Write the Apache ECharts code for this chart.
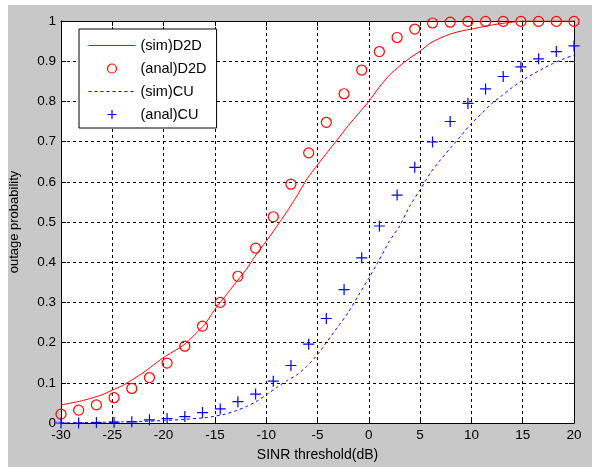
<!DOCTYPE html>
<html>
<head>
<meta charset="utf-8">
<script src="https://cdn.jsdelivr.net/npm/echarts@6/dist/echarts.min.js"></script>
<style>
  html, body { margin: 0; padding: 0; background: #fff; }
  #chart { width: 592px; height: 467px; }
</style>
</head>
<body>
<div id="chart"></div>
<script>
// SINR threshold (dB) for the analytical markers
var analX = [-30, -28.28, -26.55, -24.83, -23.10, -21.38, -19.66, -17.93, -16.21, -14.48,
  -12.76, -11.03, -9.31, -7.59, -5.86, -4.14, -2.41, -0.69, 1.03, 2.76,
  4.48, 6.21, 7.93, 9.66, 11.38, 13.10, 14.83, 16.55, 18.28, 20];
// (anal)D2D
var analD2D = [0.022, 0.032, 0.045, 0.063, 0.086, 0.113, 0.149, 0.191, 0.241, 0.300,
  0.365, 0.435, 0.513, 0.594, 0.672, 0.748, 0.819, 0.878, 0.924, 0.959,
  0.980, 0.995, 0.997, 0.999, 0.999, 0.999, 0.999, 0.999, 0.999, 0.999];
// (anal)CU
var analCU = [0.000, 0.000, 0.001, 0.002, 0.003, 0.008, 0.011, 0.016, 0.026, 0.035,
  0.053, 0.072, 0.104, 0.143, 0.196, 0.260, 0.332, 0.411, 0.490, 0.567,
  0.636, 0.699, 0.750, 0.795, 0.831, 0.862, 0.886, 0.906, 0.924, 0.938];

// simulation curves
var simX = [-30, -28, -26, -25, -24, -22, -20, -18, -16, -15, -14, -13, -12, -11, -10,
  -9, -8, -7, -6, -5, -4, -3, -2, -1, 0, 1, 2, 3, 4, 5, 6, 7, 8, 9, 10,
  11, 12, 13, 14, 15, 16, 17, 18, 19, 20];
var simD2D = [0.045, 0.055, 0.070, 0.082, 0.093, 0.125, 0.163, 0.195, 0.245, 0.283, 0.315, 0.348, 0.380, 0.418, 0.452,
  0.488, 0.525, 0.565, 0.608, 0.642, 0.675, 0.707, 0.740, 0.770, 0.800, 0.835, 0.865, 0.888, 0.908, 0.925, 0.945, 0.958, 0.968, 0.975, 0.980,
  0.985, 0.990, 0.994, 0.997, 1.0, 1.0, 1.0, 1.0, 1.0, 1.0];
var simCU = [0.000, 0.001, 0.002, 0.002, 0.003, 0.004, 0.006, 0.009, 0.013, 0.017, 0.022, 0.030, 0.040, 0.053, 0.070,
  0.088, 0.105, 0.120, 0.142, 0.170, 0.205, 0.240, 0.275, 0.318, 0.360, 0.405, 0.452, 0.490, 0.540, 0.580, 0.622, 0.655, 0.685, 0.715, 0.745,
  0.770, 0.795, 0.815, 0.835, 0.853, 0.868, 0.882, 0.895, 0.906, 0.915];

var seriesNames = ["(sim)D2D", "(anal)D2D", "(sim)CU", "(anal)CU"];

function pairs(xs, ys) {
  return xs.map(function (x, i) { return [x, ys[i]]; });
}

var chart = echarts.init(document.getElementById("chart"));

var font = "Liberation Sans";
var tickStyle = { color: "#000", fontFamily: font, fontSize: 13.5 };

var option = {
  animation: false,
  backgroundColor: "#fff",
  graphic: [
    {
      type: "rect",
      left: 8, top: 5,
      shape: { width: 584, height: 462 },
      style: { fill: "#c8c8c8" },
      z: -10
    }
  ],
  grid: {
    left: 58, right: 18, top: 21, bottom: 41,
    show: true,
    backgroundColor: "#fff",
    borderWidth: 0
  },
  legend: {
    orient: "vertical",
    left: 79, top: 29,
    data: [
      {
        name: seriesNames[0],
        itemStyle: { opacity: 0 },
        lineStyle: { color: "#ff0000", width: 1, opacity: 1 }
      },
      {
        name: seriesNames[1],
        itemStyle: { color: "rgba(0,0,0,0)", borderColor: "#ff0000", borderWidth: 1.2 }
      },
      {
        name: seriesNames[2],
        itemStyle: { opacity: 0 },
        lineStyle: { color: "#0000ff", width: 1, type: [3, 3], opacity: 1 }
      },
      {
        name: seriesNames[3],
        itemStyle: { color: "rgba(0,0,0,0)", borderColor: "#0000ff", borderWidth: 1.2 }
      }
    ],
    backgroundColor: "#fff",
    borderColor: "#000",
    borderWidth: 1,
    borderRadius: 0,
    padding: [8, 10, 5, 9],
    itemWidth: 47,
    itemHeight: 9,
    itemGap: 6,
    textStyle: { color: "#000", fontFamily: font, fontSize: 14.5, lineHeight: 17 }
  },
  xAxis: [
    {
      type: "value",
      min: -30, max: 20, interval: 5,
      name: "SINR threshold(dB)",
      nameLocation: "middle",
      nameGap: 25,
      nameTextStyle: { color: "#000", fontFamily: font, fontSize: 14 },
      axisLine: { show: true, onZero: false, lineStyle: { color: "#000", width: 1 } },
      axisTick: { show: true, inside: true, length: 5, lineStyle: { color: "#000" } },
      axisLabel: Object.assign({ margin: 5 }, tickStyle),
      splitLine: { show: true, lineStyle: { color: "#000", type: [3, 3], width: 1 } }
    },
    {
      type: "value",
      position: "top",
      min: -30, max: 20, interval: 5,
      axisLine: { show: true, onZero: false, lineStyle: { color: "#000", width: 1 } },
      axisTick: { show: true, inside: true, length: 5, lineStyle: { color: "#000" } },
      axisLabel: { show: false },
      splitLine: { show: false }
    }
  ],
  yAxis: [
    {
      type: "value",
      min: 0, max: 1, interval: 0.1,
      name: "outage probability",
      nameLocation: "middle",
      nameGap: 40,
      nameTextStyle: { color: "#000", fontFamily: font, fontSize: 13 },
      axisLine: { show: true, onZero: false, lineStyle: { color: "#000", width: 1 } },
      axisTick: { show: true, inside: true, length: 5, lineStyle: { color: "#000" } },
      axisLabel: Object.assign({
        margin: 5,
        formatter: function (v) { return String(Math.round(v * 10) / 10); }
      }, tickStyle),
      splitLine: { show: true, lineStyle: { color: "#000", type: [3, 3], width: 1 } }
    },
    {
      type: "value",
      position: "right",
      min: 0, max: 1, interval: 0.1,
      axisLine: { show: true, onZero: false, lineStyle: { color: "#000", width: 1 } },
      axisTick: { show: true, inside: true, length: 5, lineStyle: { color: "#000" } },
      axisLabel: { show: false },
      splitLine: { show: false }
    }
  ],
  series: [
    {
      name: "(sim)D2D",
      type: "line",
      data: pairs(simX, simD2D),
      symbol: "none",
      smooth: 0.2,
      itemStyle: { color: "#ff0000" },
      lineStyle: { color: "#ff0000", width: 1 },
      z: 3
    },
    {
      name: "(anal)D2D",
      type: "scatter",
      data: pairs(analX, analD2D),
      symbol: "circle",
      symbolSize: 10,
      itemStyle: { color: "rgba(0,0,0,0)", borderColor: "#ff0000", borderWidth: 1.2, opacity: 1 },
      z: 4
    },
    {
      name: "(sim)CU",
      type: "line",
      data: pairs(simX, simCU),
      symbol: "none",
      smooth: 0.2,
      itemStyle: { color: "#0000ff" },
      lineStyle: { color: "#0000ff", width: 1, type: [3, 3] },
      z: 3
    },
    {
      name: "(anal)CU",
      type: "scatter",
      data: pairs(analX, analCU),
      symbol: "path://M0,5L10,5M5,0L5,10",
      symbolSize: 11,
      itemStyle: { color: "rgba(0,0,0,0)", borderColor: "#0000ff", borderWidth: 1.2, opacity: 1 },
      z: 4
    }
  ]
};

chart.setOption(option);
</script>
</body>
</html>
